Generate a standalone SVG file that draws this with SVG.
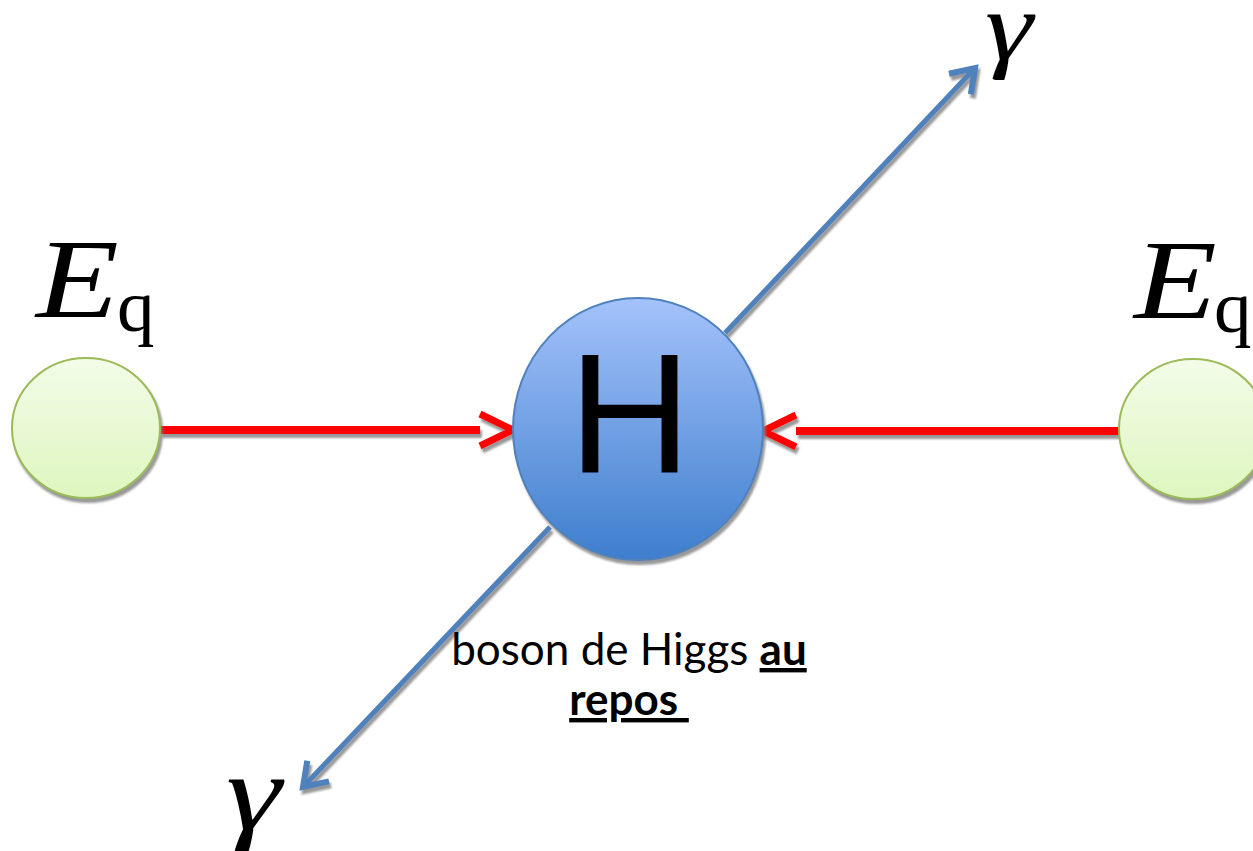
<svg xmlns="http://www.w3.org/2000/svg" width="1253" height="851" viewBox="0 0 1253 851">
<style>
.lbl{font-family:"Liberation Serif","DejaVu Serif",serif;fill:#000}
.cap{font-family:Lato,"Liberation Sans",sans-serif;font-size:44px;fill:#000}
.green{fill:url(#gGreen);stroke:#9bbb59;stroke-width:2}
.red{stroke:#ff0000;stroke-width:8;fill:none}
.blue{stroke:#4f81bd;stroke-width:5;fill:none}
</style>
<defs>
<linearGradient id="gGreen" x1="0" y1="0" x2="0" y2="1">
<stop offset="0" stop-color="#f3fce8"/>
<stop offset="1" stop-color="#def6bf"/>
</linearGradient>
<linearGradient id="gBlue" x1="0" y1="0" x2="0" y2="1">
<stop offset="0" stop-color="#a4c2fb"/>
<stop offset="1" stop-color="#3e7ecd"/>
</linearGradient>
<filter id="sh" x="-20%" y="-20%" width="140%" height="140%">
<feDropShadow dx="2" dy="4" stdDeviation="1" flood-color="#7f7f7f" flood-opacity="0.8"/>
</filter>
<marker id="redHead" markerUnits="userSpaceOnUse" markerWidth="50" markerHeight="50" viewBox="-5 -25 50 50" refX="0" refY="0" orient="auto" overflow="visible">
<path d="M0,-16 L33,0 L0,16" fill="none" stroke="#ff0000" stroke-width="7"/>
</marker>
<marker id="blueHead" markerUnits="userSpaceOnUse" markerWidth="40" markerHeight="40" viewBox="-30 -20 40 40" refX="0" refY="0" orient="auto" overflow="visible">
<path d="M-22,-15 L0,0 L-22,15" fill="none" stroke="#4f81bd" stroke-width="6"/>
</marker>
</defs>
<rect width="1253" height="851" fill="#fff"/>

<g id="connectors" filter="url(#sh)">
<path id="e-left" class="red" d="M160,430 L480,430" marker-end="url(#redHead)"/>
<path id="e-right" class="red" d="M1120,431 L796,431" marker-end="url(#redHead)"/>
<path id="e-up" class="blue" d="M725,333 L975,68" marker-end="url(#blueHead)"/>
<path id="e-down" class="blue" d="M550,527 L303,787" marker-end="url(#blueHead)"/>
</g>

<g id="quark-left">
<ellipse class="green" cx="86" cy="428" rx="74" ry="70" filter="url(#sh)"/>
<text class="lbl" transform="translate(36,317) scale(1.2,1)" font-size="113" font-style="italic">E</text>
<text class="lbl" x="117" y="331" font-size="75">q</text>
</g>

<g id="quark-right">
<ellipse class="green" cx="1193" cy="429" rx="74" ry="70" filter="url(#sh)"/>
<text class="lbl" transform="translate(1134,318) scale(1.2,1)" font-size="113" font-style="italic">E</text>
<text class="lbl" x="1214" y="332" font-size="75">q</text>
</g>

<g id="higgs">
<ellipse cx="638" cy="429" rx="125" ry="131" fill="url(#gBlue)" stroke="#4f81bd" stroke-width="2" filter="url(#sh)"/>
<text x="630" y="473" font-family="Liberation Sans,Arial,sans-serif" font-size="170" text-anchor="middle" fill="#000">H</text>
</g>

<g id="photon-up">
<text class="lbl" transform="translate(985,59) scale(1.25,1)" font-size="97" font-style="italic">γ</text>
</g>
<g id="photon-down">
<text class="lbl" transform="translate(226,829) scale(1.3,1)" font-size="108" font-style="italic">γ</text>
</g>

<g id="caption">
<text class="cap" x="629" y="665" text-anchor="middle">boson de Higgs <tspan font-weight="bold" text-decoration="underline">au</tspan></text>
<text class="cap" x="629" y="715" text-anchor="middle" font-weight="bold" text-decoration="underline" style="white-space:pre">repos </text>
</g>
</svg>
